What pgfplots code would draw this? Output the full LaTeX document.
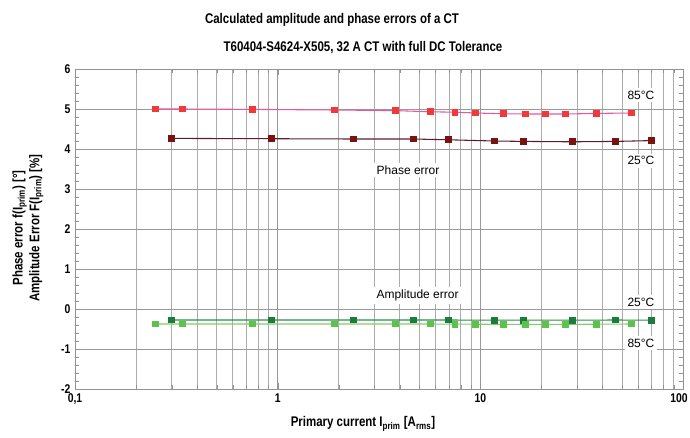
\documentclass[border=0pt]{standalone}
\usepackage{pgfplots}
\pgfplotsset{compat=1.18}
\usepackage{fontspec}
\setmainfont{Liberation Sans}
\newfontfamily\narrow[FakeStretch=0.82]{Liberation Sans}

\definecolor{redmk}{HTML}{F03A3A}
\definecolor{redln}{HTML}{E8579E}
\definecolor{darkmk}{HTML}{7A1212}
\definecolor{darkln}{HTML}{5A1E30}
\definecolor{dgreen}{HTML}{1C7C3C}
\definecolor{dgreenln}{HTML}{2F8C4C}
\definecolor{lgreen}{HTML}{5CC24C}
\definecolor{lgreenln}{HTML}{80CC70}

\begin{document}
\begin{tikzpicture}
% picture frame = reference pixels (1 px = 0.75 pt), axis box at origin
\useasboundingbox (-56.25pt,-36.75pt) rectangle (461.25pt,291.75pt);

\begin{axis}[
    at={(0,0)}, anchor=south west,
    scale only axis, width=456pt, height=240pt,
    xmode=log, log basis x=10,
    xmin=0.1, xmax=100, ymin=-2, ymax=6,
    xtick={0.1,1,10,100},
    xticklabels={{0,1},1,10,{\hspace*{-6pt}100}},
    minor xtick={0.2,0.3,0.4,0.5,0.6,0.7,0.8,0.9,2,3,4,5,6,7,8,9,20,30,40,50,60,70,80,90},
    ytick={-2,-1,0,1,2,3,4,5,6},
    yticklabels={{-2},{-1},0,1,2,3,4,5,6},
    minor y tick num=4,
    xmajorgrids, xminorgrids, ymajorgrids,
    major grid style={gray!80, line width=0.6pt},
    minor grid style={gray!65, line width=0.6pt},
    axis line style={gray!85, line width=0.6pt},
    tick style={gray!85},
    minor tick length=3pt,
    ticklabel style={font=\narrow\bfseries\fontsize{9.5}{10}\selectfont},
    every mark/.append style={solid},
]

% phase error 85 C
\addplot[color=redln, line width=0.8pt, mark=square*, mark size=2.2pt,
    mark options={draw=redmk, fill=redmk}] coordinates {
    (0.25,5.0)(0.34,5.0)(0.75,4.99)(1.9,4.975)(3.8,4.96)(5.7,4.93)(7.5,4.92)
    (9.5,4.90)(13,4.88)(16.7,4.875)(21,4.875)(26.4,4.875)(37.6,4.89)(56,4.90)
};
% phase error 25 C
\addplot[color=darkln, line width=0.8pt, mark=square*, mark size=2.2pt,
    mark options={draw=darkmk, fill=darkmk}] coordinates {
    (0.3,4.265)(0.93,4.257)(2.36,4.25)(4.67,4.25)(7.0,4.23)(11.7,4.20)
    (16.4,4.19)(28.4,4.18)(46.5,4.19)(70,4.21)
};
% amplitude error 25 C
\addplot[color=dgreenln, line width=0.8pt, mark=square*, mark size=2.2pt,
    mark options={draw=dgreen, fill=dgreen}] coordinates {
    (0.3,-0.275)(0.93,-0.275)(2.36,-0.275)(4.67,-0.275)(7.0,-0.275)(11.7,-0.28)
    (16.4,-0.28)(28.4,-0.28)(46.5,-0.275)(70,-0.28)
};
% amplitude error 85 C
\addplot[color=lgreenln, line width=0.8pt, mark=square*, mark size=2.2pt,
    mark options={draw=lgreen, fill=lgreen}] coordinates {
    (0.25,-0.375)(0.34,-0.375)(0.75,-0.375)(1.9,-0.375)(3.8,-0.375)(5.7,-0.375)
    (7.5,-0.38)(9.5,-0.38)(13,-0.385)(16.7,-0.385)(21,-0.385)(26.4,-0.385)
    (37.6,-0.38)(56,-0.375)
};

\tikzset{lbl/.style={fill=white, inner sep=2pt, font=\fontsize{9}{10}\selectfont}}
\node[lbl] at (axis cs:62,5.34) {85°C};
\node[lbl] at (axis cs:62,3.71) {25°C};
\node[lbl] at (axis cs:4.4,3.48) {Phase error};
\node[lbl] at (axis cs:4.9,0.34) {Amplitude error};
\node[lbl] at (axis cs:62,0.17) {25°C};
\node[lbl] at (axis cs:62,-0.86) {85°C};
\end{axis}

\begin{scope}[shift={(-56.25pt,291.75pt)}, x=0.75pt, y=-0.75pt,
    every node/.style={font=\narrow\bfseries\fontsize{10.5}{12}\selectfont}]
  \node at (332,20) {Calculated amplitude and phase errors of a CT};
  \node at (363,48) {T60404-S4624-X505, 32 A CT with full DC Tolerance};
  \node at (363,424) {Primary current I\textsubscript{prim} [A\textsubscript{rms}]};
  \node[rotate=90, align=center, font=\narrow\bfseries\fontsize{10.5}{12.5}\selectfont]
    at (28,228) {Phase error f(I\textsubscript{prim}) [°]\\Amplitude Error F(I\textsubscript{prim}) [\%]};
\end{scope}
\end{tikzpicture}
\end{document}
